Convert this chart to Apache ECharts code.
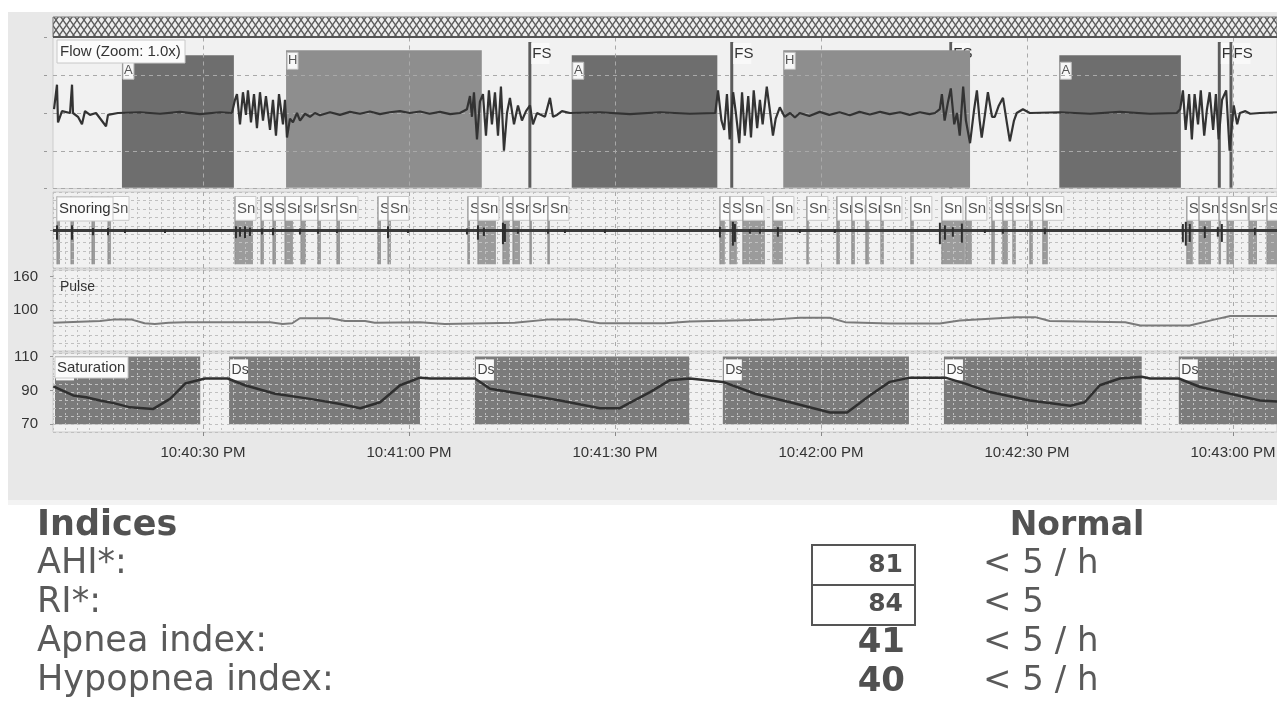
<!DOCTYPE html>
<html><head><meta charset="utf-8">
<script src="https://cdn.jsdelivr.net/npm/echarts@6.0.0/dist/echarts.min.js"></script>
<style>html,body{margin:0;padding:0;background:#fff}#c{width:1277px;height:701px}</style>
</head><body><div id="c"></div>
<script>
// ================= DATA =================
// time in seconds after 10:40:00 PM
const timeMin = 8.16, timeMax = 186.4;
const tickValues = [30, 60, 90, 120, 150, 180];
const tickLabels = ['10:40:30 PM', '10:41:00 PM', '10:41:30 PM', '10:42:00 PM', '10:42:30 PM', '10:43:00 PM'];

const panelTitles = ['Flow (Zoom: 1.0x)', 'Snoring', 'Pulse', 'Saturation'];

// Flow signal
const flowT = [8.31,8.74,8.89,9.47,10.64,10.93,11.07,11.80,12.38,12.82,13.55,14.42,15.88,16.17,17.62,20.83,23.74,26.65,29.56,32.48,34.22,
34.66,34.95,35.39,35.82,36.26,36.55,36.99,37.43,37.86,38.30,38.74,39.17,39.76,40.19,40.63,41.07,41.65,41.94,42.23,42.67,43.10,43.69,44.13,44.85,45.58,46.3,47.04,48.5,49.95,51.4,52.86,54.3,55.77,57.2,58.69,60.1,61.60,63.0,64.51,66.0,67.42,
68.44,68.88,69.17,69.46,69.90,70.33,70.77,71.21,71.64,72.08,72.52,72.96,73.39,73.83,74.27,74.70,75.29,75.87,76.45,77.04,77.62,78.05,78.64,79.80,80.53,80.97,81.55,82.28,83.44,87.81,92.18,96.55,100.9,104.6,
105.0,105.5,105.9,106.3,106.7,107.2,107.6,108.1,108.5,108.9,109.4,109.8,110.2,110.7,111.1,111.5,112.1,112.6,113.0,113.4,114.0,114.7,115.5,116.2,116.9,118.3,119.8,121.2,122.7,124.2,125.6,127.1,128.6,130.0,131.5,132.9,134.4,135.8,136.6,
137.3,137.6,138.0,138.5,138.9,139.4,139.8,140.2,140.7,141.1,141.7,142.3,142.7,143.1,143.4,143.9,144.3,144.9,145.3,145.9,146.5,147.1,147.5,148.1,148.5,149.4,150.4,154.8,159.2,163.5,167.9,171.8,
172.3,172.7,173.1,173.6,174.0,174.4,174.9,175.3,175.8,176.2,176.6,177.1,177.5,177.9,178.4,179.0,179.5,180.1,180.6,181.0,181.8,182.5,183.9,186.4];
const flowV = [0.1,0.75,-0.25,0.05,0.0,0.75,0.0,-0.1,-0.3,0.05,-0.05,0.0,-0.35,-0.05,0.0,0.02,-0.02,0.03,-0.03,0.02,0.0,
0.35,0.5,-0.3,0.55,-0.05,0.6,-0.25,0.5,-0.4,0.55,-0.2,0.45,-0.45,0.35,-0.6,0.5,-0.3,0.35,-0.65,-0.15,-0.25,0.0,-0.2,-0.02,-0.1,0.0,-0.06,0.02,-0.05,0.03,-0.02,0.04,-0.03,0.02,0.05,0.0,0.04,-0.02,0.03,-0.03,0.0,
0.1,0.45,-0.1,0.55,-0.7,0.3,0.5,-0.6,0.6,-0.3,0.55,-0.6,0.7,-1.0,0.0,0.4,-0.3,0.2,-0.2,0.05,0.2,-0.3,0.0,-0.1,0.4,-0.1,-0.05,0.05,0.0,0.02,-0.03,0.02,-0.02,0.0,
0.6,-0.2,-0.45,0.5,-0.7,0.55,0.0,-0.8,0.55,-0.6,0.45,-0.65,0.6,-0.4,0.35,-0.3,0.7,0.0,-0.6,-0.15,0.15,-0.1,0.0,-0.12,0.0,-0.08,0.03,-0.05,0.02,-0.06,0.03,-0.04,0.03,-0.03,0.02,-0.05,0.02,-0.03,0.0,
0.1,0.5,-0.2,0.3,0.65,-0.3,0.0,-0.6,0.7,-0.2,-0.8,0.1,0.6,-0.2,-0.65,0.0,0.55,-0.1,-0.1,0.2,0.4,-0.3,-0.75,-0.2,0.0,0.1,0.0,0.02,-0.02,0.03,-0.02,0.0,
0.1,0.6,-0.45,0.5,-0.7,0.5,-0.3,0.6,-0.6,0.1,0.55,-0.45,0.5,-0.7,0.35,0.6,-1.0,0.2,-0.3,0.0,0.05,-0.02,0.0,0.02];

// Respiratory events (A = apnea, H = hypopnea)
const flowEventType  = ['A', 'H', 'A', 'H', 'A'];
const flowEventStart = [18.2, 42.1, 83.7, 114.5, 154.7];
const flowEventEnd   = [34.5, 70.6, 104.9, 141.7, 172.4];
const fsLabel = 'FS';
const fsTimes = [77.6, 107.0, 138.9, 178.0, 179.7];

// Snoring events
const snoreLabel = 'Sn';
const snoreStart = [8.74,10.78,13.84,16.17,34.66,38.45,40.19,41.94,44.27,46.74,49.51,55.48,56.94,68.58,70.04,73.68,75.14,77.61,80.23,105.28,106.73,108.62,112.99,117.94,122.31,124.49,126.53,128.72,133.08,137.60,141.09,144.88,146.48,147.94,150.41,152.30,173.27,175.04,177.96,179.12,182.32,184.94];
const snoreEnd   = [9.18,11.22,14.28,16.60,37.28,38.88,40.63,43.10,45.0,47.18,49.95,55.92,57.37,68.88,72.66,74.70,76.16,77.90,80.52,106.0,107.75,111.83,114.45,118.23,122.75,124.93,126.97,129.15,133.52,140.95,141.97,145.32,147.21,148.37,150.85,153.03,174.14,176.79,178.25,180.14,183.49,186.4];
const snoreSpikeT   = [8.74,10.93,13.98,16.17,18.64,24.47,34.80,35.39,36.12,36.84,38.59,40.19,44.12,46.74,49.51,56.94,59.85,68.44,70.04,70.91,73.68,73.97,75.86,80.23,82.71,88.53,105.28,107.17,107.46,109.64,111.10,113.72,116.92,122.02,137.31,138.04,139.20,140.51,143.86,146.48,152.60,172.69,173.12,173.70,175.89,177.78,178.37,183.17];
const snoreSpikeAmp = [1.2,1.2,0.6,0.6,0.3,0.3,1.0,0.8,1.0,0.7,0.5,0.6,0.5,0.4,0.3,1.0,0.3,0.5,1.2,0.7,1.8,1.5,0.4,0.4,0.3,0.3,0.9,2.0,1.5,0.4,0.4,0.8,0.3,0.3,1.8,1.2,0.8,1.6,0.3,0.4,0.5,1.5,2.0,1.5,1.0,0.8,1.5,0.6];

// Pulse
const pulseTicks = [100, 160];
const pulseT = [8.2,15.0,17.2,19.5,21.5,23.0,25.0,27.4,39.8,41.6,43.0,44.1,48.5,50.7,53.6,55.0,61.6,65.2,75.4,80.5,84.2,87.8,97.3,100.9,113.3,116.9,121.3,123.5,130.0,137.3,140.2,148.3,151.2,153.3,164.3,166.5,173.7,177.4,179.6,186.4];
const pulseV = [77,80,83,83,76,74.5,77,78,78,74.5,76,85,85,80,80,77,78,74.5,77,83,83,76,76,79,83,86,86,78,75.5,75.5,81,87,87,80,78,72,72,83,89,89];

// Saturation
const satTicks = [70, 90, 110];
const satT = [8.2,11.1,13.0,15.0,17.0,19.4,22.7,25.2,27.4,30.3,33.6,36.1,40.5,45.6,50.0,52.9,55.8,58.7,61.6,63.1,69.6,71.8,76.2,82.0,87.8,90.7,95.1,98.0,100.9,105.7,110.4,115.5,121.3,123.8,127.1,130.0,133.0,138.1,141.0,144.6,150.4,156.3,158.4,160.6,163.5,166.7,167.9,172.1,175.2,179.6,183.9,186.4];
const satV = [92.3,87,86,84,82.5,80,79,85,94,97,97,93,88,85,82,79.5,83,93,97.5,97,97,91,88,84,79.5,79.5,89,96,97,95,88,83,77,77,87,95,97.5,97.5,94,89,84,81,83,93,97,98,97,97,92,88,84,83.5];
const desatLabel = 'Ds';
const desatStart = [8.45, 33.8, 69.6, 105.7, 137.9, 172.1];
const desatEnd   = [29.6, 61.6, 100.8, 132.8, 166.7, 186.4];
const desatTop = 110, desatBottom = 70;

// Indices table
const tableHeaders = ['Indices', 'Normal'];
const indexNames   = ['AHI*:', 'RI*:', 'Apnea index:', 'Hypopnea index:'];
const indexValues  = [81, 84, 41, 40];
const indexNormals = ['< 5 / h', '< 5', '< 5 / h', '< 5 / h'];

// ================= RENDER =================
const SANS = '"Liberation Sans","Arial",sans-serif';
const DASH = '#a9a9a9', DOT = '#c0c0c0';

// hatch pattern
const hatch = document.createElement('canvas');
hatch.width = 7; hatch.height = 10;
(function(){
  const c = hatch.getContext('2d');
  c.fillStyle = '#ededed'; c.fillRect(0,0,7,10);
  c.strokeStyle = '#5a5a5a'; c.lineWidth = 1.3;
  c.beginPath(); c.moveTo(0,0); c.lineTo(7,10); c.moveTo(7,0); c.lineTo(0,10); c.stroke();
})();

const chart = echarts.init(document.getElementById('c'), null, {renderer:'canvas', width:1277, height:701});

function gridOf(top, height){
  return {left:53, right:0, top:top, height:height, show:true, backgroundColor:'#f1f1f1',
    borderColor:'#cdcdcd', borderWidth:1, containLabel:false, outerBoundsMode:'none'};
}
function timeAxis(g, labels){
  return {type:'value', gridIndex:g, min:timeMin, max:timeMax, z:3,
    axisLine:{show:false},
    axisTick:{show:labels, customValues:tickValues, length:4, lineStyle:{color:'#888'}},
    axisLabel:{show:labels, customValues:tickValues, margin:13, fontFamily:SANS, fontSize:15, color:'#333',
      formatter:(v)=>{const k = tickValues.findIndex(t=>Math.abs(t-v)<1e-6); return k>=0 ? tickLabels[k] : '';}},
    splitLine:{show:true, lineStyle:{color:DASH, width:1, type:[4,4]}}};
}
function helperX(g){
  return {type:'value', gridIndex:g, min:0, max:102, interval:1, z:3, position:'top',
    axisLine:{show:false}, axisTick:{show:false}, axisLabel:{show:false},
    splitLine:{show:true, lineStyle:{color:DOT, width:1, type:[2,3]}}};
}
function helperY(g, rows){
  return {type:'value', gridIndex:g, min:0, max:rows, interval:1, z:3, position:'right',
    axisLine:{show:false}, axisTick:{show:false}, axisLabel:{show:false},
    splitLine:{show:true, lineStyle:{color:DOT, width:1, type:[3,3]}}};
}
const yLabelStyle = {margin:9, fontFamily:SANS, fontSize:15, color:'#333'};

const flowStyle = {A:{top:1.53, color:'#6e6e6e', dy:7}, H:{top:1.66, color:'#8e8e8e', dy:2}};

const graphicEls = [
  {type:'rect', z:-10, shape:{x:8, y:12, width:1269, height:488}, style:{fill:'#e8e8e8'}},
  {type:'rect', z:-10, shape:{x:8, y:500, width:1269, height:5}, style:{fill:'#f3f3f3'}},
  {type:'rect', z:10, shape:{x:53, y:17, width:1224, height:20}, style:{fill:{image:hatch, repeat:'repeat'}, stroke:'#777', lineWidth:1}},
  {type:'rect', z:10, shape:{x:53, y:36, width:1224, height:2}, style:{fill:'#555'}},
  // panel titles
  {type:'rect', z:10, shape:{x:57, y:40, width:128, height:23}, style:{fill:'#fbfbfb', stroke:'#c8c8c8', lineWidth:1}},
  {type:'text', z:11, x:60, y:52, style:{text:panelTitles[0], font:'15px '+SANS, fill:'#333', verticalAlign:'middle'}},
  {type:'rect', z:10, shape:{x:57, y:197, width:56, height:24}, style:{fill:'#fbfbfb', stroke:'#c8c8c8', lineWidth:1}},
  {type:'text', z:11, x:59, y:209, style:{text:panelTitles[1], font:'15px '+SANS, fill:'#333', verticalAlign:'middle'}},
  {type:'text', z:11, x:60, y:287, style:{text:panelTitles[2], font:'14px '+SANS, fill:'#333', verticalAlign:'middle'}},
  {type:'rect', z:10, shape:{x:55, y:357, width:73, height:21}, style:{fill:'#fbfbfb', stroke:'#c8c8c8', lineWidth:1}},
  {type:'text', z:11, x:57, y:368, style:{text:panelTitles[3], font:'15px '+SANS, fill:'#333', verticalAlign:'middle'}},
  // table
  {type:'text', x:37, y:526, style:{text:tableHeaders[0], font:'bold 35px "DejaVu Sans"', fill:'#525252', verticalAlign:'middle'}},
  {type:'text', x:1077, y:526, style:{text:tableHeaders[1], font:'bold 33px "DejaVu Sans"', fill:'#525252', align:'center', verticalAlign:'middle'}},
  {type:'rect', shape:{x:812, y:545, width:103, height:80}, style:{fill:'none', stroke:'#555', lineWidth:2}},
  {type:'line', shape:{x1:812, y1:585, x2:915, y2:585}, style:{stroke:'#555', lineWidth:2}}
];
indexNames.forEach((n, i) => {
  const y = 564 + i * 39;
  graphicEls.push({type:'text', x:37, y:y, style:{text:n, font:'35px "DejaVu Sans"', fill:'#5a5a5a', verticalAlign:'middle'}});
  graphicEls.push({type:'text', x: i < 2 ? 903 : 905, y:y + 1, style:{text:String(indexValues[i]), font: i < 2 ? 'bold 25px "DejaVu Sans"' : 'bold 34px "DejaVu Sans"', fill:'#505050', align:'right', verticalAlign:'middle'}});
  graphicEls.push({type:'text', x:983, y:y, style:{text:indexNormals[i], font:'34px "DejaVu Sans"', fill:'#5a5a5a', verticalAlign:'middle'}});
});

const option = {
  animation:false,
  backgroundColor:'#ffffff',
  grid:[gridOf(37.5,151), gridOf(192,76), gridOf(270,81), gridOf(353,79)],
  xAxis:[timeAxis(0,false), timeAxis(1,false), timeAxis(2,false), timeAxis(3,true), helperX(1), helperX(2), helperX(3)],
  yAxis:[
    {type:'value', gridIndex:0, min:-2, max:2, interval:1, z:3, offset:6,
      axisLine:{show:false}, axisTick:{show:true, length:3, lineStyle:{color:'#999'}}, axisLabel:{show:false},
      splitLine:{show:true, lineStyle:{color:DASH, width:1, type:[4,4]}}},
    {type:'value', gridIndex:1, min:-5, max:5.2, z:3, offset:6,
      axisLine:{show:false}, axisTick:{show:true, customValues:[0], length:3, lineStyle:{color:'#999'}}, axisLabel:{show:false}, splitLine:{show:false}},
    {type:'value', gridIndex:2, min:26, max:172, z:3, offset:6,
      axisLine:{show:false}, axisTick:{show:true, customValues:pulseTicks, length:3, lineStyle:{color:'#999'}},
      axisLabel:Object.assign({customValues:pulseTicks}, yLabelStyle), splitLine:{show:false}},
    {type:'value', gridIndex:3, min:65.5, max:112, z:3, offset:6,
      axisLine:{show:false}, axisTick:{show:true, customValues:satTicks, length:3, lineStyle:{color:'#999'}},
      axisLabel:Object.assign({customValues:satTicks}, yLabelStyle), splitLine:{show:false}},
    helperY(1,9), helperY(2,10), helperY(3,10)
  ],
  graphic:{elements:graphicEls},
  series:[
    // FS markers (below event boxes)
    {type:'custom', xAxisIndex:0, yAxisIndex:0, z:1, clip:true,
      data: fsTimes.map(t => [t]),
      renderItem:(params, api) => {
        const t = api.value(0);
        const a = api.coord([t, 1.88]), b = api.coord([t, -1.98]);
        return {type:'group', children:[
          {type:'line', shape:{x1:a[0], y1:a[1], x2:b[0], y2:b[1]}, style:{stroke:'#5c5c5c', lineWidth:3}},
          {type:'rect', shape:{x:a[0]+1.5, y:a[1]+1, width:18, height:21}, style:{fill:'#f9f9f9'}},
          {type:'text', x:a[0]+2.5, y:a[1]+12, style:{text:fsLabel, fill:'#333', font:'15px '+SANS, verticalAlign:'middle'}}
        ]};
      }},
    // respiratory events
    {type:'custom', xAxisIndex:0, yAxisIndex:0, z:2, clip:true,
      data: flowEventStart.map((s, i) => [s, flowEventEnd[i]]),
      renderItem:(params, api) => {
        const k = flowEventType[params.dataIndex], st = flowStyle[k];
        const a = api.coord([api.value(0), st.top]), b = api.coord([api.value(1), -1.98]);
        return {type:'group', children:[
          {type:'rect', shape:{x:a[0], y:a[1], width:b[0]-a[0], height:b[1]-a[1]}, style:{fill:st.color}},
          {type:'rect', shape:{x:a[0]+1, y:a[1]+st.dy, width:11, height:17}, style:{fill:'#f7f7f7', stroke:'#bbb', lineWidth:1}},
          {type:'text', x:a[0]+6.5, y:a[1]+st.dy+8.5, style:{text:k, fill:'#555', font:'13px '+SANS, align:'center', verticalAlign:'middle'}}
        ]};
      }},
    // flow line
    {type:'line', xAxisIndex:0, yAxisIndex:0, z:5, showSymbol:false, symbol:'none',
      data: flowT.map((t, i) => [t, flowV[i]]),
      lineStyle:{color:'#333333', width:2.2}},
    // snoring bars
    {type:'custom', xAxisIndex:1, yAxisIndex:1, z:2, clip:true,
      data: snoreStart.map((s, i) => [s, snoreEnd[i]]),
      renderItem:(params, api) => {
        const a = api.coord([api.value(0), 1.4]), b = api.coord([api.value(1), -4.5]);
        return {type:'rect', shape:{x:a[0], y:a[1], width:Math.max(b[0]-a[0], 2), height:b[1]-a[1]}, style:{fill:'#9b9b9b'}};
      }},
    // snoring labels
    {type:'custom', xAxisIndex:1, yAxisIndex:1, z:4, clip:true,
      data: snoreStart.map((s, i) => [s, snoreEnd[i]]),
      renderItem:(params, api) => {
        const s = api.value(0);
        const top = api.coord([s, 4.6]), lb = api.coord([s, 1.4]), bot = api.coord([s, -4.5]);
        return {type:'group', children:[
          {type:'rect', shape:{x:top[0], y:top[1], width:21, height:lb[1]-top[1]}, style:{fill:'#fbfbfb', stroke:'#c8c8c8', lineWidth:1}},
          {type:'line', shape:{x1:top[0], y1:top[1], x2:bot[0], y2:bot[1]}, style:{stroke:'#8c8c8c', lineWidth:1}},
          {type:'text', x:top[0]+2, y:(top[1]+lb[1])/2, style:{text:snoreLabel, fill:'#555', font:'15px '+SANS, verticalAlign:'middle'}}
        ]};
      }},
    // snoring trace: spikes + zero line
    {type:'custom', xAxisIndex:1, yAxisIndex:1, z:5, clip:true,
      data: snoreSpikeT.map((t, i) => [t, snoreSpikeAmp[i]]),
      renderItem:(params, api) => {
        const t = api.value(0), amp = api.value(1);
        const a = api.coord([t, amp * 0.6]), b = api.coord([t, -amp]);
        return {type:'line', shape:{x1:a[0], y1:a[1], x2:b[0], y2:b[1]}, style:{stroke:'#2e2e2e', lineWidth:2}};
      },
      markLine:{silent:true, symbol:['none','none'], label:{show:false}, data:[{yAxis:0}],
        lineStyle:{color:'#3b3b3b', width:3, type:'solid'}}},
    // pulse
    {type:'line', xAxisIndex:2, yAxisIndex:2, z:5, showSymbol:false, symbol:'none',
      data: pulseT.map((t, i) => [t, pulseV[i]]),
      lineStyle:{color:'#7a7a7a', width:2}},
    // desaturation events
    {type:'custom', xAxisIndex:3, yAxisIndex:3, z:2, clip:true,
      data: desatStart.map((s, i) => [s, desatEnd[i]]),
      renderItem:(params, api) => {
        const a = api.coord([api.value(0), desatTop]), b = api.coord([api.value(1), desatBottom]);
        return {type:'rect', shape:{x:a[0], y:a[1], width:b[0]-a[0], height:b[1]-a[1]}, style:{fill:'#7b7b7b'}};
      }},
    {type:'custom', xAxisIndex:3, yAxisIndex:3, z:4, clip:true,
      data: desatStart.map((s, i) => [s, desatEnd[i]]),
      renderItem:(params, api) => {
        const a = api.coord([api.value(0), desatTop]);
        return {type:'group', children:[
          {type:'rect', shape:{x:a[0]+1, y:a[1]+3, width:18, height:21}, style:{fill:'#fafafa'}},
          {type:'text', x:a[0]+2.5, y:a[1]+14, style:{text:desatLabel, fill:'#444', font:'14px '+SANS, verticalAlign:'middle'}}
        ]};
      }},
    // saturation
    {type:'line', xAxisIndex:3, yAxisIndex:3, z:5, showSymbol:false, symbol:'none',
      data: satT.map((t, i) => [t, satV[i]]),
      lineStyle:{color:'#2f2f2f', width:2.5}}
  ]
};
chart.setOption(option);
</script>
</body></html>
